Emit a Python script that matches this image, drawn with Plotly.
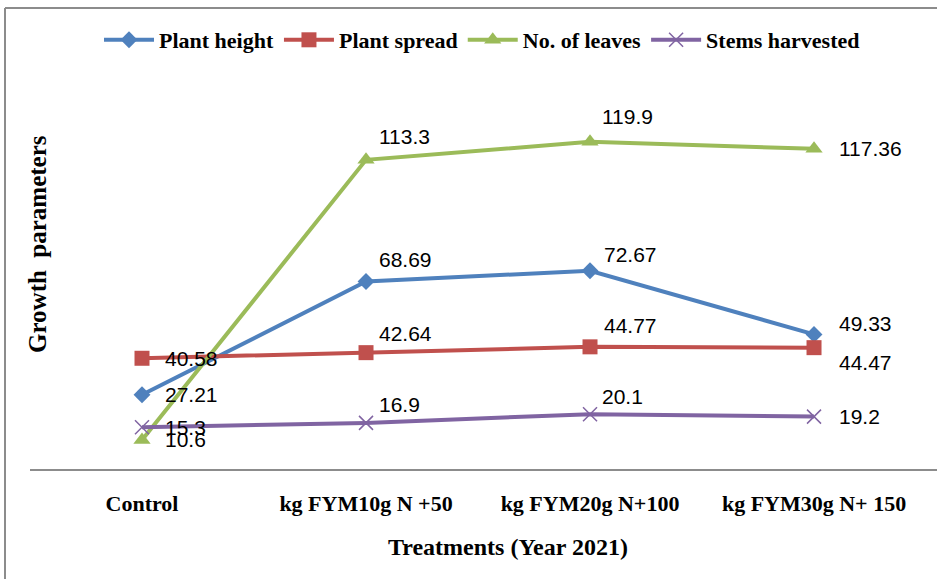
import plotly.graph_objects as go

categories = ["Control", "kg FYM10g N +50", "kg FYM20g N+100", "kg FYM30g N+ 150"]
plant_height = [27.21, 68.69, 72.67, 49.33]
plant_spread = [40.58, 42.64, 44.77, 44.47]
no_of_leaves = [10.6, 113.3, 119.9, 117.36]
stems_harvested = [15.3, 16.9, 20.1, 19.2]

series = [
    ("Plant height", plant_height, "#4F81BD", "diamond", 13),
    ("Plant spread", plant_spread, "#C0504D", "square", 15),
    ("No. of leaves", no_of_leaves, "#9BBB59", "triangle-up", 15),
    ("Stems harvested", stems_harvested, "#8064A2", "x-thin-open", 14),
]

# label offsets (pixels) per series, per point: (xshift, yshift)
label_offsets = {
    "Plant height": [(21, 0), (11, 22), (12, 16), (23, 11)],
    "Plant spread": [(21, 0), (11, 19), (12, 21), (23, -15)],
    "No. of leaves": [(21, 1), (11, 23), (10, 25), (23, 0)],
    "Stems harvested": [(21, 0), (11, 18), (10, 18), (23, 0)],
}

fig = go.Figure()
annotations = []
for name, vals, color, sym, msize in series:
    marker = dict(symbol=sym, size=msize, color=color)
    if sym == "x-thin-open":
        marker["line"] = dict(color=color, width=1.5)
    fig.add_trace(go.Scatter(
        x=categories, y=vals, name=f"<b>{name}</b>", mode="lines+markers",
        line=dict(color=color, width=4), marker=marker,
    ))
    for c, v, (dx, dy) in zip(categories, vals, label_offsets[name]):
        annotations.append(dict(
            x=c, y=v, xref="x", yref="y", text=f"{v:g}", showarrow=False,
            xanchor="left", yanchor="middle", xshift=dx, yshift=dy,
            font=dict(family="Liberation Sans, Arial", size=21, color="#000"),
        ))

serif = "Liberation Serif, Times New Roman"
annotations.append(dict(
    text="<b>Treatments (Year 2021)</b>", xref="paper", yref="paper",
    x=(508 - 30) / 907, y=(469 - 547) / 382, showarrow=False,
    xanchor="center", yanchor="middle",
    font=dict(family=serif, size=24, color="#000"),
))
annotations.append(dict(
    text="<b>Growth  parameters</b>", xref="paper", yref="paper",
    x=(38 - 30) / 907, y=(469 - 244) / 382, showarrow=False, textangle=-90,
    xanchor="center", yanchor="middle",
    font=dict(family=serif, size=25, color="#000"),
))

shapes = [
    dict(type="line", xref="paper", yref="paper",
         x0=(5 - 30) / 907, x1=(937 - 30) / 907 + 0.05,
         y0=(469 - 8) / 382, y1=(469 - 8) / 382,
         line=dict(color="#8c8c8c", width=2)),
    dict(type="line", xref="paper", yref="paper",
         x0=(5 - 30) / 907, x1=(5 - 30) / 907,
         y0=(469 - 8) / 382, y1=-0.4,
         line=dict(color="#8c8c8c", width=2)),
]

fig.update_layout(
    width=937, height=579,
    margin=dict(l=30, r=0, t=87, b=110),
    paper_bgcolor="white", plot_bgcolor="white",
    showlegend=True,
    legend=dict(
        orientation="h", x=(482 - 30) / 907, xanchor="center",
        y=(469 - 40) / 382, yanchor="middle",
        font=dict(family=serif, size=22, color="#000"),
        itemwidth=50, traceorder="normal",
    ),
    annotations=annotations,
    shapes=shapes,
    xaxis=dict(
        type="category", range=[-0.5, 3.549], showgrid=False, zeroline=False,
        showline=True, linecolor="#8c8c8c", linewidth=2,
        ticks="outside", ticklen=14, tickcolor="rgba(0,0,0,0)",
        tickfont=dict(family=serif, size=22, color="#000"),
        tickprefix="<b>", ticksuffix="</b>",
    ),
    yaxis=dict(
        range=[0, 140], showgrid=False, zeroline=False, showline=False,
        showticklabels=False, ticks="",
    ),
)

fig.write_html("out.html", config={"displayModeBar": False},
               post_script="document.body.style.margin='0';")
